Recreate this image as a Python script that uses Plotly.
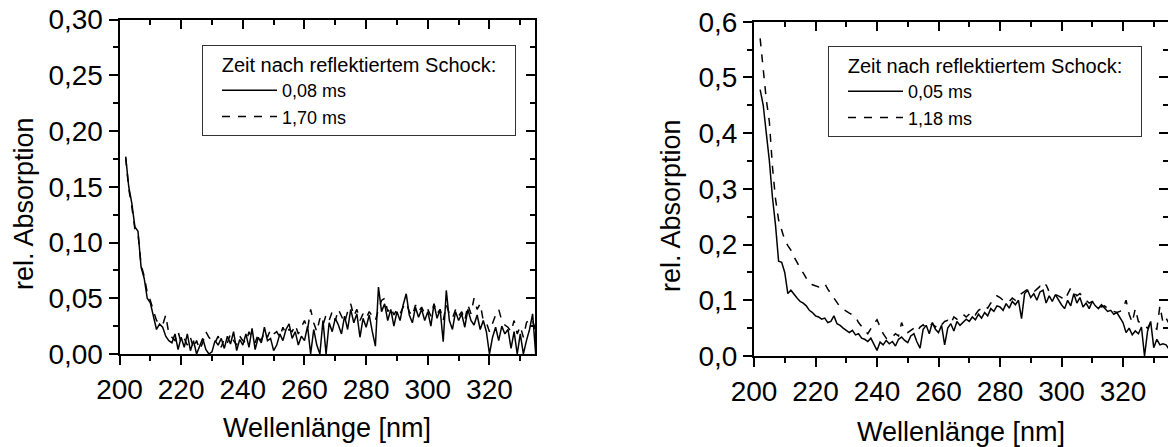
import plotly.graph_objects as go

# ---------------- data ----------------
wavelength = list(range(202, 336))  # nm, 1 nm grid

left_008ms = [
    0.177, 0.150, 0.135, 0.114, 0.110, 0.078, 0.068, 0.050,
    0.046, 0.034, 0.022, 0.027, 0.024, 0.016, 0.012, 0.010, 0.018, 0.004,
    0.015, 0.006, 0.018, 0.003, 0.012, 0.000, 0.008, 0.014, 0.004, 0.000,
    0.002, 0.012, 0.008, 0.014, 0.005, 0.016, 0.009, 0.020, 0.003, 0.013,
    0.008, 0.018, 0.006, 0.023, 0.004, 0.015, 0.010, 0.024, 0.012, 0.014,
    0.003, 0.008, 0.018, 0.012, 0.022, 0.027, 0.014, 0.020, 0.008, 0.016,
    0.012, 0.025, 0.000, 0.022, 0.008, 0.000, 0.030, 0.000, 0.028, 0.020,
    0.032, 0.026, 0.018, 0.034, 0.022, 0.040, 0.028, 0.036, 0.015, 0.032,
    0.024, 0.035, 0.020, 0.007, 0.060, 0.038, 0.045, 0.030, 0.040, 0.025,
    0.038, 0.030, 0.044, 0.054, 0.035, 0.028, 0.042, 0.033, 0.040, 0.030,
    0.038, 0.025, 0.045, 0.032, 0.040, 0.011, 0.057, 0.030, 0.022, 0.038,
    0.030, 0.036, 0.024, 0.040, 0.030, 0.026, 0.035, 0.022, 0.030, 0.020,
    0.000, 0.015, 0.024, 0.012, 0.025, 0.018, 0.022, 0.005, 0.020, 0.000,
    0.018, 0.000, 0.012, 0.022, 0.036, 0.000,
]
left_170ms = [
    0.176, 0.148, 0.132, 0.112, 0.108, 0.080, 0.070, 0.055,
    0.048, 0.038, 0.030, 0.028, 0.026, 0.035, 0.018, 0.015, 0.012, 0.020,
    0.010, 0.014, 0.008, 0.015, 0.005, 0.012, 0.004, 0.010, 0.020, 0.015,
    0.012, 0.010, 0.016, 0.006, 0.014, 0.010, 0.018, 0.012, 0.008, 0.016,
    0.012, 0.010, 0.020, 0.014, 0.010, 0.018, 0.012, 0.020, 0.015, 0.022,
    0.018, 0.020, 0.015, 0.024, 0.018, 0.022, 0.020, 0.026, 0.018, 0.024,
    0.030, 0.022, 0.040, 0.028, 0.020, 0.032, 0.026, 0.035, 0.030, 0.038,
    0.030, 0.040, 0.034, 0.028, 0.038, 0.045, 0.034, 0.040, 0.030, 0.036,
    0.032, 0.038, 0.034, 0.030, 0.040, 0.048, 0.050, 0.038, 0.042, 0.035,
    0.040, 0.036, 0.042, 0.046, 0.038, 0.034, 0.044, 0.038, 0.042, 0.036,
    0.040, 0.034, 0.045, 0.036, 0.040, 0.030, 0.044, 0.036, 0.032, 0.040,
    0.034, 0.038, 0.030, 0.044, 0.036, 0.050, 0.040, 0.045, 0.030, 0.028,
    0.020, 0.028, 0.035, 0.040, 0.030, 0.026, 0.024, 0.020, 0.030, 0.018,
    0.025, 0.015, 0.028, 0.032, 0.030, 0.020,
]
right_005ms = [
    0.478, 0.450, 0.400, 0.350, 0.285, 0.235, 0.170, 0.168,
    0.150, 0.112, 0.118, 0.110, 0.104, 0.098, 0.095, 0.090, 0.082, 0.078,
    0.072, 0.070, 0.066, 0.068, 0.060, 0.062, 0.072, 0.058, 0.055, 0.050,
    0.046, 0.042, 0.046, 0.038, 0.040, 0.032, 0.030, 0.026, 0.032, 0.022,
    0.010, 0.025, 0.020, 0.028, 0.022, 0.026, 0.018, 0.030, 0.034, 0.028,
    0.024, 0.036, 0.040, 0.025, 0.014, 0.048, 0.055, 0.040, 0.060, 0.048,
    0.042, 0.055, 0.020, 0.050, 0.058, 0.045, 0.062, 0.055, 0.060, 0.066,
    0.062, 0.070, 0.065, 0.075, 0.068, 0.078, 0.072, 0.085, 0.080, 0.090,
    0.088, 0.082, 0.094, 0.086, 0.098, 0.092, 0.100, 0.067, 0.112, 0.118,
    0.105, 0.112, 0.100, 0.115, 0.118, 0.095, 0.108, 0.098, 0.110, 0.100,
    0.092, 0.085, 0.100, 0.090, 0.112, 0.095, 0.105, 0.088, 0.095, 0.085,
    0.098, 0.090, 0.085, 0.092, 0.085, 0.080, 0.082, 0.075, 0.078, 0.070,
    0.060, 0.042, 0.050, 0.038, 0.045, 0.040, 0.052, 0.000, 0.045, 0.062,
    0.015, 0.030, 0.020, 0.022, 0.020, 0.012,
]
right_118ms = [
    0.570, 0.510, 0.460, 0.420, 0.340, 0.282, 0.244, 0.226,
    0.208, 0.198, 0.190, 0.178, 0.167, 0.158, 0.149, 0.140, 0.130, 0.128,
    0.126, 0.124, 0.128, 0.130, 0.120, 0.112, 0.104, 0.096, 0.088, 0.084,
    0.080, 0.077, 0.074, 0.070, 0.060, 0.052, 0.046, 0.040, 0.050, 0.058,
    0.065, 0.052, 0.040, 0.032, 0.030, 0.034, 0.040, 0.036, 0.060, 0.045,
    0.042, 0.046, 0.050, 0.044, 0.052, 0.056, 0.050, 0.054, 0.058, 0.052,
    0.060, 0.056, 0.062, 0.064, 0.058, 0.070, 0.066, 0.072, 0.075, 0.070,
    0.075, 0.080, 0.074, 0.082, 0.085, 0.090, 0.086, 0.095, 0.100, 0.108,
    0.105, 0.100, 0.102, 0.098, 0.104, 0.100, 0.108, 0.112, 0.115, 0.120,
    0.118, 0.115, 0.120, 0.125, 0.120, 0.128, 0.115, 0.112, 0.110, 0.108,
    0.105, 0.100, 0.110, 0.122, 0.115, 0.108, 0.112, 0.105, 0.100, 0.095,
    0.098, 0.092, 0.090, 0.088, 0.090, 0.085, 0.082, 0.080, 0.078, 0.080,
    0.085, 0.100, 0.075, 0.060, 0.085, 0.062, 0.058, 0.055, 0.050, 0.060,
    0.052, 0.048, 0.090, 0.060, 0.068, 0.058,
]

legend_title = "Zeit nach reflektiertem Schock:"
left_names = ["0,08 ms", "1,70 ms"]
right_names = ["0,05 ms", "1,18 ms"]
x_title = "Wellenlänge [nm]"
y_title = "rel. Absorption"

# ---------------- layout helpers ----------------
W, H = 1168, 447
FONT = "Liberation Sans, Arial, sans-serif"


def fx(p):
    return p / W


def fy(p):
    return 1 - p / H


SOLID = dict(color="black", width=1.5)
DASHED = dict(color="black", width=1.5, dash="8px,8px")

fig = go.Figure()
fig.add_trace(go.Scatter(x=wavelength, y=left_008ms, mode="lines", line=SOLID,
                         name=left_names[0], xaxis="x", yaxis="y", legend="legend"))
fig.add_trace(go.Scatter(x=wavelength, y=left_170ms, mode="lines", line=DASHED,
                         name=left_names[1], xaxis="x", yaxis="y", legend="legend"))
fig.add_trace(go.Scatter(x=wavelength, y=right_005ms, mode="lines", line=SOLID,
                         name=right_names[0], xaxis="x2", yaxis="y2", legend="legend2"))
fig.add_trace(go.Scatter(x=wavelength, y=right_118ms, mode="lines", line=DASHED,
                         name=right_names[1], xaxis="x2", yaxis="y2", legend="legend2"))

# empty traces so that the mirrored (top / right) frame axes get drawn
for xa, ya in (("x3", "y"), ("x", "y3"), ("x4", "y2"), ("x2", "y4")):
    fig.add_trace(go.Scatter(x=[None], y=[None], mode="lines", xaxis=xa, yaxis=ya,
                             showlegend=False, hoverinfo="skip"))

tickfont = dict(family=FONT, size=28, color="black")


def xaxis(rng, dom, anchor, side="bottom", overlay=None, showline=True):
    inside = side == "top"
    d = dict(
        range=rng, autorange=False, tick0=200, dtick=20, automargin=False,
        ticks="inside" if inside else "outside", ticklen=9, tickwidth=2, tickcolor="black",
        showline=showline, linewidth=2, linecolor="black",
        showgrid=False, zeroline=False, side=side, anchor=anchor,
        showticklabels=not inside, tickfont=tickfont,
        minor=dict(tick0=200, dtick=10, ticks="inside" if inside else "outside",
                   ticklen=5, tickwidth=2, tickcolor="black", showgrid=False),
    )
    if overlay:
        d["overlaying"] = overlay
    else:
        d["domain"] = dom
    return d


def yaxis(rng, dom, anchor, dtick, mdtick, fmt, side="left", overlay=None, showline=True):
    inside = side == "right"
    d = dict(
        range=rng, autorange=False, tick0=0, dtick=dtick, tickformat=fmt, automargin=False,
        ticks="inside" if inside else "outside", ticklen=9, tickwidth=2, tickcolor="black",
        showline=showline, linewidth=2, linecolor="black",
        showgrid=False, zeroline=False, side=side, anchor=anchor,
        showticklabels=not inside, tickfont=tickfont,
        minor=dict(tick0=0, dtick=mdtick, ticks="inside" if inside else "outside",
                   ticklen=5, tickwidth=2, tickcolor="black", showgrid=False),
    )
    if overlay:
        d["overlaying"] = overlay
    else:
        d["domain"] = dom
    return d


L_dom_x = [fx(119.5), fx(535)]
L_dom_y = [fy(354), fy(19.5)]
R_dom_x = [fx(754), 1.0]
R_dom_y = [fy(356), fy(21.7)]
L_xr = [200, 200 + (535 - 119.5) / 3.083]
R_xr = [200, 200 + (1168 - 754) / 3.075]

NB = "\u00a0"
legend_common = dict(
    xanchor="left", yanchor="top",
    bgcolor="white", bordercolor="#333333", borderwidth=1,
    font=dict(family=FONT, size=18, color="black"),
    title=dict(text=NB * 3 + legend_title + NB * 3,
               font=dict(family=FONT, size=20, color="black")),
    tracegroupgap=0, itemwidth=55, indentation=14,
)

fig.update_layout(
    width=W, height=H,
    margin=dict(l=0, r=0, t=0, b=0, pad=0, autoexpand=False),
    paper_bgcolor="white", plot_bgcolor="white",
    separators=",.",
    font=dict(family=FONT, color="black"),
    xaxis=xaxis(L_xr, L_dom_x, "y"),
    yaxis=yaxis([0, 0.30], L_dom_y, "x", 0.05, 0.025, ".2f"),
    xaxis3=xaxis(L_xr, None, "y", side="top", overlay="x"),
    yaxis3=yaxis([0, 0.30], None, "x", 0.05, 0.025, ".2f", side="right", overlay="y"),
    xaxis2=xaxis(R_xr, R_dom_x, "y2"),
    yaxis2=yaxis([0, 0.6], R_dom_y, "x2", 0.1, 0.05, ".1f"),
    xaxis4=xaxis(R_xr, None, "y2", side="top", overlay="x2"),
    yaxis4=yaxis([0, 0.6], None, "x2", 0.1, 0.05, ".1f", side="right", overlay="y2",
                 showline=False),
    legend=dict(x=fx(202), y=fy(45), **legend_common),
    legend2=dict(x=fx(828), y=fy(46), **legend_common),
    annotations=[
        dict(text=x_title, x=fx(327), y=fy(428), xref="paper", yref="paper",
             xanchor="center", yanchor="middle", showarrow=False,
             font=dict(family=FONT, size=27, color="black")),
        dict(text=x_title, x=fx(961), y=fy(432), xref="paper", yref="paper",
             xanchor="center", yanchor="middle", showarrow=False,
             font=dict(family=FONT, size=27, color="black")),
        dict(text=y_title, x=fx(24), y=fy(204), xref="paper", yref="paper",
             xanchor="center", yanchor="middle", showarrow=False, textangle=-90,
             font=dict(family=FONT, size=27, color="black")),
        dict(text=y_title, x=fx(671), y=fy(206), xref="paper", yref="paper",
             xanchor="center", yanchor="middle", showarrow=False, textangle=-90,
             font=dict(family=FONT, size=27, color="black")),
    ],
)

fig.write_html("out.html", config={"displayModeBar": False},
               post_script="document.body.style.margin='0';")
